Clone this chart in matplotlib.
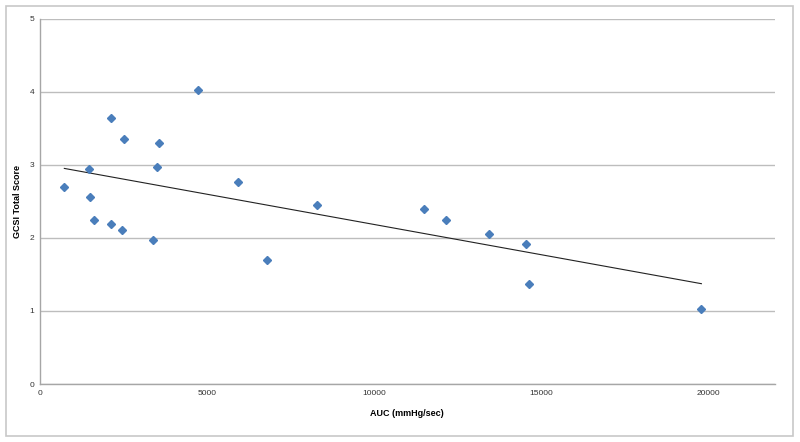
import numpy as np
import matplotlib
matplotlib.use('Agg')
import matplotlib.pyplot as plt
from matplotlib.patches import Rectangle

# data
auc = [742, 1472, 1511, 1622, 2149, 2149, 2459, 2528, 3396, 3526, 3566,
       4733, 5930, 6797, 8303, 11496, 12163, 13430, 14557, 14637, 19793]
gcsi = [2.69, 2.94, 2.555, 2.25, 3.64, 2.19, 2.11, 3.36, 1.975, 2.97, 3.30,
        4.02, 2.77, 1.70, 2.445, 2.39, 2.25, 2.05, 1.915, 1.365, 1.03]
x_ticks = [0, 5000, 10000, 15000, 20000]
y_ticks = [0, 1, 2, 3, 4, 5]

C_PT = '#4a7ebb'; C_GRID = '#bdbdbd'; C_AX = '#a6a6a6'

plt.rcParams['font.family'] = ['Liberation Sans', 'DejaVu Sans']

fig = plt.figure(figsize=(8, 4.42), dpi=100, facecolor='white')
fig.patches.append(Rectangle((0.0075, 0.0136), 0.984, 0.973, transform=fig.transFigure,
                             fill=False, ec='#c8c8c8', lw=1.2))
ax = fig.add_axes([0.0494, 0.1312, 0.9196, 0.8265])

x = np.array(auc, dtype=float); y = np.array(gcsi)
k, b = np.polyfit(x, y, 1)
xl = np.array([x.min(), x.max()])
ax.plot(xl, k*xl + b, color='#222222', lw=0.8, zorder=3)
ax.plot(x, y, 'D', color=C_PT, ms=4.0, mec=C_PT, zorder=4)

ax.set_xlim(0, 22000); ax.set_ylim(0, 5)
ax.set_xticks(x_ticks); ax.set_yticks(y_ticks)
ax.grid(axis='y', color=C_GRID, lw=1.0)
ax.set_axisbelow(True)
for s in ['top', 'right']: ax.spines[s].set_visible(False)
for s in ['left', 'bottom']:
    ax.spines[s].set_color(C_AX); ax.spines[s].set_linewidth(1.0)
ax.tick_params(length=0, labelsize=6, colors='#333333', pad=4)
ax.set_xlabel('AUC (mmHg/sec)', fontsize=6.5, fontweight='bold', labelpad=9)
ax.set_ylabel('GCSI Total Score', fontsize=6.5, fontweight='bold', labelpad=5)

fig.savefig('out.png', dpi=100, facecolor='white')
